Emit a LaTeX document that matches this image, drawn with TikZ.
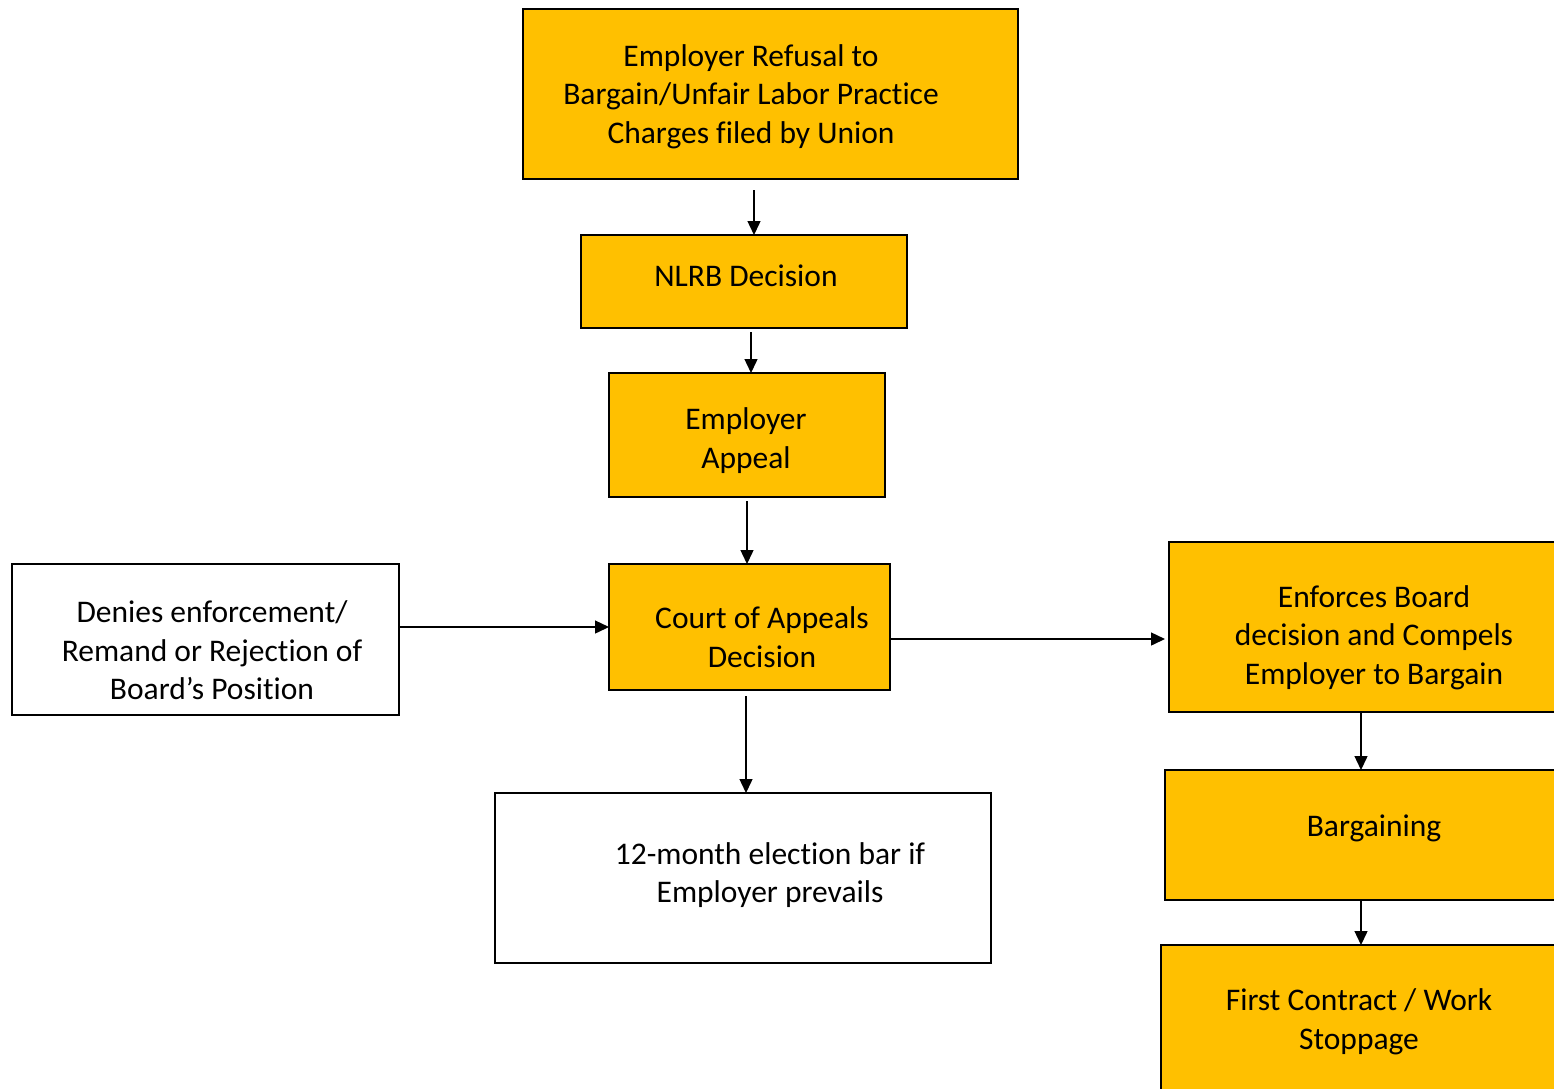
\documentclass[tikz,border=0pt]{standalone}
\usepackage{fontspec}
\setmainfont[Ligatures=NoCommon]{Carlito}
\usetikzlibrary{arrows.meta}
\definecolor{gold}{HTML}{FFC000}
\begin{document}
\begin{tikzpicture}[x=1pt,y=-1pt,
  box/.style={draw=black,line width=1.5pt,fill=gold,anchor=north west,inner sep=0pt,outer sep=0pt},
  wbox/.style={box,fill=white},
  txt/.style={align=center,font=\fontsize{31.5}{38.5}\selectfont,inner sep=0pt},
  arr/.style={line width=1.4pt,-{Triangle[width=13pt,length=14pt]}}]
\useasboundingbox (0,0) rectangle (1554,1088);
\clip (0,0) rectangle (1554,1088);
\fill[white] (0,0) rectangle (1554,1088);
% boxes
\node[box,minimum width=495pt,minimum height=170pt] (b1) at (523,9) {};
\node[box,minimum width=326pt,minimum height=93pt] (b2) at (581,235) {};
\node[box,minimum width=276pt,minimum height=124pt] (b3) at (609,373) {};
\node[box,minimum width=281pt,minimum height=126pt] (b4) at (609,564) {};
\node[wbox,minimum width=387pt,minimum height=151pt] (dn) at (12,564) {};
\node[wbox,minimum width=496pt,minimum height=170pt] (bar) at (495,793) {};
\node[box,minimum width=420pt,minimum height=170pt] (enf) at (1169,542) {};
\node[box,minimum width=424pt,minimum height=130pt] (barg) at (1165,770) {};
\node[box,minimum width=428pt,minimum height=180pt] (fc) at (1161,945) {};
% texts
\node[txt] (t1) at (751,96.5) {Employer Refusal to\\Bargain/Unfair Labor Practice\\Charges filed by Union};
\node[txt] (t2) at (746,276) {NLRB Decision};
\node[txt] (t3) at (746,440.5) {Employer\\Appeal};
\node[txt] (t4) at (762,637) {Court of Appeals\\Decision};
\node[txt] (tdn) at (212,650.5) {Denies enforcement/\\Remand or Rejection of\\Board’s Position};
\node[txt] (tbar) at (770,875) {12-month election bar if\\Employer prevails};
\node[txt] (tenf) at (1374,637.5) {Enforces Board\\decision and Compels\\Employer to Bargain};
\node[txt] (tbarg) at (1374,828) {Bargaining};
\node[txt] (tfc) at (1359,1022) {First Contract / Work\\Stoppage};
% arrows
\coordinate (c4e) at ([yshift=-12pt]b4.east);
\draw[arr] ([xshift=-16.5pt,yshift=-11pt]b1.south) -- ([xshift=-16.5pt]b1.south |- b2.north);
\draw[arr] ([xshift=7pt,yshift=-4pt]b2.south) -- ([xshift=7pt]b2.south |- b3.north);
\draw[arr] ([yshift=-4pt]b3.south) -- (b3.south |- b4.north);
\draw[arr] (dn.east |- b4.west) -- (b4.west);
\draw[arr,shorten >=4pt] (c4e) -- (enf.west |- c4e);
\draw[arr] ([xshift=-3.5pt,yshift=-6pt]b4.south) -- ([xshift=-3.5pt]b4.south |- bar.north);
\draw[arr] ([xshift=192pt]enf.south west) -- ([xshift=192pt]enf.south west |- barg.north);
\draw[arr] ([xshift=196pt]barg.south west) -- ([xshift=196pt]barg.south west |- fc.north);
\end{tikzpicture}
\end{document}
